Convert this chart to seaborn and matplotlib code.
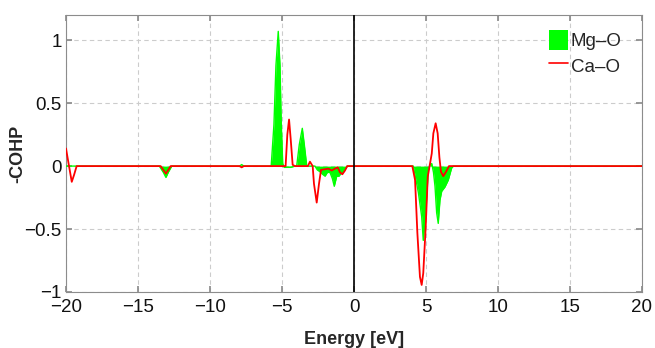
import matplotlib
matplotlib.use("Agg")
import matplotlib.pyplot as plt
import seaborn as sns
import pandas as pd
from matplotlib.patches import Patch
from matplotlib.lines import Line2D

# ---- data ----
energy_mg = [-20, -13.52, -13.24, -13.06, -12.9, -12.66, -7.95, -7.8, -7.65,
             -5.75, -5.56, -5.42, -5.26, -5.14, -5.05, -4.95, -4.85, -4.4, -4.1,
             -3.98, -3.80, -3.59, -3.45, -3.28, -2.71, -2.55, -2.36, -2.18, -2.01,
             -1.85, -1.67, -1.50, -1.37, -1.20, -1.04, -0.92, -0.74, -0.47,
             4.12, 4.47, 4.70, 4.81, 5.0, 5.16, 5.28, 5.40, 5.52, 5.625, 5.74,
             5.85, 5.97, 6.09, 6.32, 6.55, 6.78, 6.90, 20]
cohp_mg = [0, 0, -0.05, -0.09, -0.05, 0, 0, 0.012, 0,
           0, 0.33, 0.80, 1.07, 0.80, 0.33, 0.02, -0.01, -0.01, 0,
           0, 0.17, 0.30, 0.17, 0.0, 0, -0.03, -0.045, -0.065, -0.08,
           -0.05, -0.05, -0.10, -0.16, -0.08, -0.08, -0.06, -0.04, 0,
           0, -0.21, -0.40, -0.59, -0.35, -0.03, 0.01, 0.02, -0.05, -0.16, -0.37,
           -0.455, -0.27, -0.20, -0.165, -0.11, -0.015, 0, 0]

energy_ca = [-20, -19.79, -19.6, -19.44, -19.26, -13.43, -13.06, -12.73, -7.95, -7.8,
             -7.65, -4.75, -4.63, -4.51, -4.40, -4.26, -4.1, -3.2, -3.06, -2.87,
             -2.78, -2.59, -2.43, -2.29, -2.01, -1.78, -1.55, -1.32, -1.13, -0.97,
             -0.81, -0.625, -0.47, 4.05, 4.24, 4.40, 4.58, 4.70, 4.81, 4.98, 5.12,
             5.28, 5.40, 5.51, 5.67, 5.81, 5.93, 6.04, 6.20, 6.39, 6.6, 20]
cohp_ca = [0.14, 0, -0.125, -0.07, 0, 0, -0.06, 0, 0, -0.01,
           0, 0, 0.25, 0.37, 0.22, 0.01, 0, 0, 0.035, 0,
           -0.14, -0.29, -0.14, -0.03, -0.025, -0.02, -0.035, -0.02, -0.01, -0.05,
           -0.065, -0.035, 0, 0, -0.11, -0.53, -0.88, -0.944, -0.85, -0.48, -0.085,
           0.02, 0.10, 0.26, 0.34, 0.26, 0.07, -0.045, -0.08, -0.045, 0, 0]

x_ticks = [-20, -15, -10, -5, 0, 5, 10, 15, 20]
x_ticklabels = ["\u221220", "\u221215", "\u221210", "\u22125", "0", "5", "10", "15", "20"]
y_ticks = [-1, -0.5, 0, 0.5, 1]
y_ticklabels = ["\u22121", "\u22120.5", "0", "0.5", "1"]
series_labels = ["Mg\u2013O", "Ca\u2013O"]

# ---- plotting ----
sns.set_theme(style="white")
plt.rcParams["font.family"] = ["Liberation Sans", "DejaVu Sans"]

fig = plt.figure(figsize=(6.55, 3.48), dpi=100)
ax = fig.add_axes([66 / 655, 1 - 292 / 348, 576 / 655, 277 / 348])

df_mg = pd.DataFrame({"Energy": energy_mg, "COHP": cohp_mg})
df_ca = pd.DataFrame({"Energy": energy_ca, "COHP": cohp_ca})

ax.fill_between(df_mg["Energy"], 0, df_mg["COHP"], color="#00ff00", linewidth=0, zorder=2)
sns.lineplot(data=df_mg, x="Energy", y="COHP", ax=ax, color="#00ff00", linewidth=1.0,
             sort=False, estimator=None, zorder=3)
sns.lineplot(data=df_ca, x="Energy", y="COHP", ax=ax, color="#ff0000", linewidth=1.3,
             sort=False, estimator=None, zorder=4)
ax.axvline(0, color="black", linewidth=1.2, zorder=5)

ax.set_xlim(-20, 20)
ax.set_ylim(-1, 1.2)
ax.set_xticks(x_ticks)
ax.set_xticklabels(x_ticklabels)
ax.set_yticks(y_ticks)
ax.set_yticklabels(y_ticklabels)
ax.grid(True, linestyle=(0, (4, 3)), color="#cccccc", linewidth=0.8, zorder=0)
ax.set_axisbelow(True)

for s in ax.spines.values():
    s.set_visible(True)
    s.set_color("#8c8c8c")
    s.set_linewidth(0.8)
ax.tick_params(axis="both", which="both", direction="in", length=4, color="#8c8c8c",
               labelsize=13.5, labelcolor="#111111", top=True, right=True,
               bottom=True, left=True)
ax.tick_params(axis="x", pad=5)
ax.tick_params(axis="y", pad=3)

ax.set_xlabel("Energy [eV]", fontsize=13, fontweight="bold", labelpad=11)
ax.set_ylabel("-COHP", fontsize=13, fontweight="bold", labelpad=-1)

handles = [Patch(facecolor="#00ff00", edgecolor="#00ff00", linewidth=0),
           Line2D([0], [0], color="#ff0000", linewidth=1.2)]
leg = ax.legend(handles, series_labels, loc="upper left",
                bbox_to_anchor=((549 - 66) / 576, (292 - 30) / 277),
                frameon=False, fontsize=13.5, handlelength=1.0, handleheight=1.3,
                handletextpad=0.15, labelspacing=0.25, borderpad=0, borderaxespad=0)

fig.savefig("out.png", dpi=100)
